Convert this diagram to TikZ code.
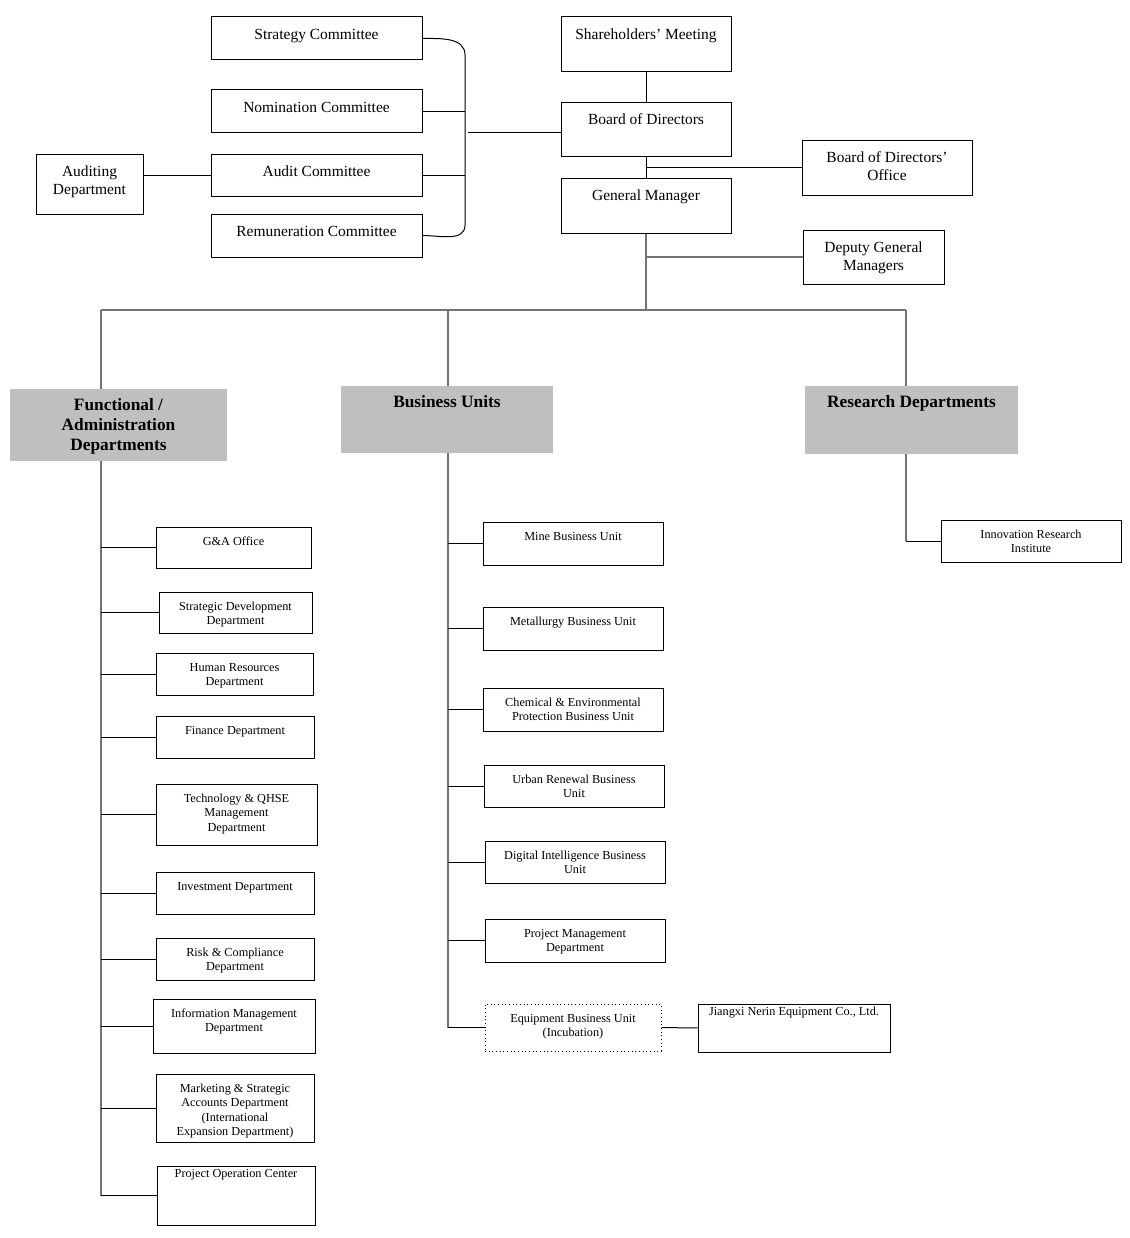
\documentclass[tikz,border=0pt]{standalone}
\usepackage{fontspec}
\setmainfont{Liberation Serif}
\usetikzlibrary{positioning,fit}
\definecolor{headgray}{HTML}{BFBFBF}
\newcommand{\cellfont}{\fontsize{11.6}{13.5}\selectfont}
\newcommand{\smallcellfont}{\fontsize{9.2}{10.6}\selectfont}
\newcommand{\headfont}{\fontsize{13}{15}\selectfont\bfseries}
\newcommand{\celltext}[1]{\begin{tabular}[t]{@{}c@{}}#1\end{tabular}}

\begin{document}
\begin{tikzpicture}[x=0.75pt, y=-0.75pt,
  box/.style={draw, inner sep=0pt, line width=0.75pt},
  head/.style={fill=headgray, inner sep=0pt},
  bigtxt/.style={anchor=base, inner sep=0pt, yshift=-17.5pt, font=\cellfont},
  smalltxt/.style={anchor=base, inner sep=0pt, yshift=-14.5pt, font=\smallcellfont},
  headtxt/.style={anchor=base, inner sep=0pt, yshift=-16.6pt, font=\headfont},
  link/.style={line width=0.75pt},
  trunk/.style={line width=1pt, draw=black!55}]
  \useasboundingbox (0,0) rectangle (1130,1238);

  % Board committees
  \node[box, fit={(211,17) (422,60)}, label={[bigtxt]north:\celltext{Strategy Committee}}] (strat) {};
  \node[box, fit={(211,90) (422,132)}, label={[bigtxt]north:\celltext{Nomination Committee}}] (nomin) {};
  \node[box, fit={(211,154) (422,196)}, label={[bigtxt]north:\celltext{Audit Committee}}] (audit) {};
  \node[box, fit={(211,214) (422,257)}, label={[bigtxt]north:\celltext{Remuneration Committee}}] (remun) {};
  \node[box, fit={(36,154) (143,214)}, label={[bigtxt]north:\celltext{Auditing\\Department}}] (auddept) {};

  % Top management
  \node[box, fit={(561,17) (731,72)}, label={[bigtxt]north:\celltext{Shareholders' Meeting}}] (share) {};
  \node[box, fit={(561,102) (731,156)}, label={[bigtxt]north:\celltext{Board of Directors}}] (board) {};
  \node[box, fit={(561,178) (731,233)}, label={[bigtxt]north:\celltext{General Manager}}] (gm) {};
  \node[box, fit={(802,140) (972,195)}, label={[bigtxt]north:\celltext{Board of Directors'\\Office}}] (bdoffice) {};
  \node[box, fit={(803,230) (944,284)}, label={[bigtxt]north:\celltext{Deputy General\\Managers}}] (deputy) {};

  % Department groups
  \node[head, fit={(10,389) (227,461)}, label={[headtxt]north:\celltext{Functional /\\Administration\\Departments}}] (func) {};
  \node[head, fit={(341,386) (553,453)}, label={[headtxt]north:\celltext{Business Units}}] (bu) {};
  \node[head, fit={(805,386) (1018,454)}, label={[headtxt]north:\celltext{Research Departments}}] (rd) {};

  % Functional / administration departments
  \node[box, fit={(156,527) (311,568)}, label={[smalltxt]north:\celltext{G\&A Office}}] (ga) {};
  \node[box, fit={(159,592) (312,633)}, label={[smalltxt]north:\celltext{Strategic Development\\Department}}] (sdd) {};
  \node[box, fit={(156,653) (313,695)}, label={[smalltxt]north:\celltext{Human Resources\\Department}}] (hr) {};
  \node[box, fit={(156,716) (314,758)}, label={[smalltxt]north:\celltext{Finance Department}}] (fin) {};
  \node[box, fit={(156,784) (317,845)}, label={[smalltxt]north:\celltext{Technology \& QHSE\\Management\\Department}}] (qhse) {};
  \node[box, fit={(156,872) (314,914)}, label={[smalltxt]north:\celltext{Investment Department}}] (invest) {};
  \node[box, fit={(156,938) (314,980)}, label={[smalltxt]north:\celltext{Risk \& Compliance\\Department}}] (risk) {};
  \node[box, fit={(153,999) (315,1053)}, label={[smalltxt]north:\celltext{Information Management\\Department}}] (info) {};
  \node[box, fit={(156,1074) (314,1142)}, label={[smalltxt]north:\celltext{Marketing \& Strategic\\Accounts Department\\(International\\Expansion Department)}}] (mkt) {};
  \node[box, fit={(157,1166) (315,1225)}, label={[smalltxt, yshift=5.2pt]north:\celltext{Project Operation Center}}] (poc) {};

  % Business units
  \node[box, fit={(483,522) (663,565)}, label={[smalltxt]north:\celltext{Mine Business Unit}}] (mine) {};
  \node[box, fit={(483,607) (663,650)}, label={[smalltxt]north:\celltext{Metallurgy Business Unit}}] (metal) {};
  \node[box, fit={(483,688) (663,731)}, label={[smalltxt]north:\celltext{Chemical \& Environmental\\Protection Business Unit}}] (chem) {};
  \node[box, fit={(484,765) (664,807)}, label={[smalltxt]north:\celltext{Urban Renewal Business\\Unit}}] (urban) {};
  \node[box, fit={(485,841) (665,883)}, label={[smalltxt]north:\celltext{Digital Intelligence Business\\Unit}}] (digital) {};
  \node[box, fit={(485,919) (665,962)}, label={[smalltxt]north:\celltext{Project Management\\Department}}] (pmd) {};
  \node[box, dotted, fit={(485,1004) (661,1051)}, label={[smalltxt]north:\celltext{Equipment Business Unit\\(Incubation)}}] (equip) {};
  \node[box, fit={(698,1004) (890,1052)}, label={[smalltxt, yshift=5.2pt]north:\celltext{Jiangxi Nerin Equipment Co., Ltd.}}] (nerin) {};

  % Research
  \node[box, fit={(941,520) (1121,562)}, label={[smalltxt]north:\celltext{Innovation Research\\Institute}}] (iri) {};

  % Connectors for the committees
  \coordinate (brtop) at (465,55);
  \coordinate (brbot) at (465,225);
  \coordinate (brmid) at (468,132);
  \draw[link] (strat.east) to[out=0, in=90] (brtop) -- (brbot) to[out=-90, in=0] (remun.east);
  \draw[link] (nomin.east) -- (nomin.east -| brtop);
  \draw[link] (audit.east) -- (audit.east -| brtop);
  \draw[link] (brmid) -- (brmid -| board.west);
  \draw[link] (audit.west) -- (audit.west -| auddept.east);

  % Connectors for the management chain
  \draw[link] (share) -- (board);
  \draw[link] (board) -- (gm);
  \draw[link] (bdoffice.west) -- (bdoffice.west -| board.south);
  \coordinate (hbar) at (651,310);
  \draw[trunk] (gm.south) -- (gm.south |- hbar);
  \draw[trunk] (deputy.west) -- (deputy.west -| gm.south);

  % Distribution bar
  \coordinate (fdrop) at (101,310);
  \coordinate (bdrop) at (448,310);
  \coordinate (rdrop) at (906,310);
  \draw[trunk] (fdrop) -- (rdrop);
  \draw[trunk] (fdrop) -- (fdrop |- func.north);
  \draw[trunk] (bdrop) -- (bdrop |- bu.north);
  \draw[trunk] (rdrop) -- (rdrop |- rd.north);

  % Branches
  \draw[trunk] (fdrop |- func.south) -- (fdrop |- poc.west);
  \foreach \n in {ga,sdd,hr,fin,qhse,invest,risk,info,mkt,poc}
    \draw[link] (fdrop |- \n.west) -- (\n.west);
  \draw[trunk] (bdrop |- bu.south) -- (bdrop |- equip.west);
  \foreach \n in {mine,metal,chem,urban,digital,pmd,equip}
    \draw[link] (bdrop |- \n.west) -- (\n.west);
  \draw[link] (equip) -- (nerin);
  \draw[trunk] (rdrop |- rd.south) -- (rdrop |- iri.west);
  \draw[link] (rdrop |- iri.west) -- (iri.west);
\end{tikzpicture}
\end{document}
